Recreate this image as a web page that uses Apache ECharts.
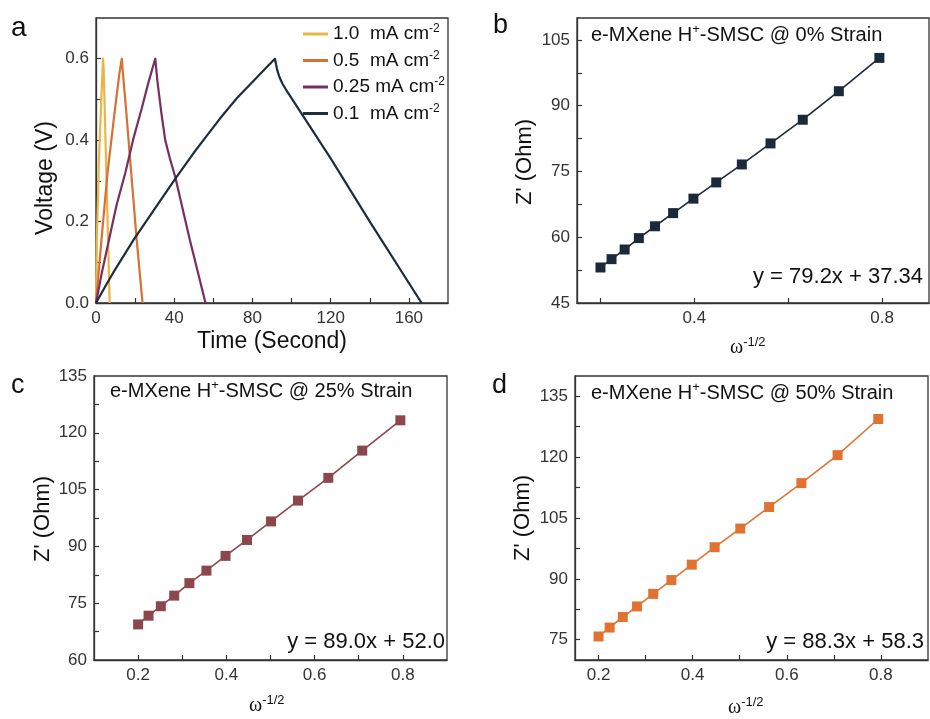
<!DOCTYPE html>
<html><head><meta charset="utf-8">
<script src="https://cdn.jsdelivr.net/npm/echarts@6/dist/echarts.min.js"></script>
<style>html,body{margin:0;padding:0;background:#fff}#c{width:930px;height:719px}</style>
</head><body><div id="c"></div>
<script>
const FONT = 'Arial, "Liberation Sans", sans-serif';
const SERIF = '"Times New Roman", "Liberation Serif", serif';

// ---- Panel a: galvanostatic charge/discharge ----
const gcdNames = ['1.0  mA cm^-2', '0.5  mA cm^-2', '0.25 mA cm^-2', '0.1  mA cm^-2'];
const gcdColors = ['#e8b646', '#d86f33', '#7a2d60', '#1e2d3c'];
const time10 = [0, 0.4, 1.5, 2.7, 3.6, 3.9, 5.4, 7.0];
const volt10 = [0, 0.15, 0.35, 0.5, 0.6, 0.58, 0.3, 0];
const time05 = [0, 2.7, 5.9, 9.8, 12.0, 13.2, 13.6, 14.2, 15.3, 18.0, 20.9, 23.8];
const volt05 = [0, 0.15, 0.32, 0.48, 0.565, 0.6, 0.575, 0.54, 0.48, 0.32, 0.15, 0];
const time025 = [0, 3, 6.4, 10.5, 15.0, 19.2, 23.5, 27.0, 30.3, 30.8, 31.4, 32.3, 33.6, 35.4, 37.8, 40.5, 48.0, 56.0];
const volt025 = [0, 0.075, 0.15, 0.24, 0.32, 0.405, 0.48, 0.545, 0.6, 0.575, 0.545, 0.51, 0.46, 0.4, 0.355, 0.31, 0.155, 0];
const time01 = [0, 5, 10, 19.2, 30, 40.5, 50, 57, 63.4, 72, 80, 86, 91.5, 92.1, 92.8, 93.8, 95.3, 97.4, 120, 140, 166.5];
const volt01 = [0, 0.043, 0.084, 0.155, 0.231, 0.305, 0.369, 0.413, 0.453, 0.503, 0.543, 0.573, 0.6, 0.585, 0.57, 0.555, 0.539, 0.522, 0.355, 0.2, 0];
const gcdTimes = [time10, time05, time025, time01];
const gcdVolts = [volt10, volt05, volt025, volt01];

// ---- Panels b, c, d: Z' vs omega^-1/2 ----
const omegaX = [0.2, 0.2236, 0.2515, 0.2818, 0.3162, 0.3548, 0.3981, 0.4467, 0.5012, 0.5623, 0.631, 0.7079, 0.7943];
const zReB = [53.1, 55.0, 57.2, 59.8, 62.5, 65.5, 68.8, 72.5, 76.6, 81.4, 86.8, 93.3, 100.9];
const zReC = [69.4, 71.7, 74.2, 77.0, 80.3, 83.6, 87.5, 91.7, 96.6, 102.1, 108.1, 115.3, 123.3];
const zReD = [75.8, 78.0, 80.6, 83.2, 86.3, 89.7, 93.5, 97.8, 102.4, 107.7, 113.6, 120.5, 129.4];
const strainTitles = ['0%', '25%', '50%'];
const fitEquations = ['y = 79.2x + 37.34', 'y = 89.0x + 52.0', 'y = 88.3x + 58.3'];
const fitColors = ['#1b2a3a', '#8c474c', '#e07332'];

// tick labels
const aXLabels = [0, 40, 80, 120, 160];
const aXTicks = [20, 40, 60, 80, 100, 120, 140, 160];
const aYLabels = [0, 0.2, 0.4, 0.6];
const aYTicks = [0.1, 0.2, 0.3, 0.4, 0.5, 0.6];
const bXLabels = [0.4, 0.8];
const bXTicks = [0.2, 0.4, 0.6, 0.8];
const bYLabels = [45, 60, 75, 90, 105];
const bYTicks = [52.5, 60, 67.5, 75, 82.5, 90, 97.5, 105];
const cdXLabels = [0.2, 0.4, 0.6, 0.8];
const cdXTicks = [0.2, 0.3, 0.4, 0.5, 0.6, 0.7, 0.8];
const cYLabels = [60, 75, 90, 105, 120, 135];
const cYTicks = [67.5, 75, 82.5, 90, 97.5, 105, 112.5, 120, 127.5];
const dYLabels = [75, 90, 105, 120, 135];
const dYTicks = [75, 82.5, 90, 97.5, 105, 112.5, 120, 127.5, 135];

const AXC = '#333';
function axis(gi, min, max, labels, ticks, fmt) {
  return {
    type: 'value', gridIndex: gi, min: min, max: max,
    axisLine: { show: true, onZero: false, lineStyle: { color: AXC, width: 1.3 } },
    axisTick: { show: true, inside: true, length: 5, customValues: ticks, lineStyle: { color: AXC, width: 1.2 } },
    axisLabel: { customValues: labels, formatter: fmt, fontSize: 17, color: '#333', fontFamily: FONT, margin: 7 },
    splitLine: { show: false }
  };
}
const f1 = v => Number(v).toFixed(1);
const f0 = v => String(v);

const grids = [
  { left: 96, top: 18, width: 352, height: 285 },
  { left: 577, top: 18, width: 352, height: 285 },
  { left: 94, top: 376, width: 353, height: 284 },
  { left: 575, top: 376, width: 353, height: 284 }
].map(g => Object.assign({ show: true, borderColor: AXC, borderWidth: 1.3, containLabel: false }, g));

const xAxes = [
  axis(0, 0, 180, aXLabels, aXTicks, f0),
  axis(1, 0.15, 0.9, bXLabels, bXTicks, f1),
  axis(2, 0.1, 0.9, cdXLabels, cdXTicks, f1),
  axis(3, 0.15, 0.9, cdXLabels, cdXTicks, f1)
];
const yAxes = [
  axis(0, 0, 0.7, aYLabels, aYTicks, f1),
  axis(1, 45, 110, bYLabels, bYTicks, f0),
  axis(2, 60, 135, cYLabels, cYTicks, f0),
  axis(3, 70, 140, dYLabels, dYTicks, f0)
];

const series = [];
gcdNames.forEach((n, i) => {
  series.push({
    name: n, type: 'line', xAxisIndex: 0, yAxisIndex: 0, showSymbol: false, symbol: 'none',
    color: gcdColors[i], lineStyle: { width: 2.2, color: gcdColors[i], join: 'round' },
    data: gcdTimes[i].map((t, k) => [t, gcdVolts[i][k]]), animation: false
  });
});
[zReB, zReC, zReD].forEach((arr, i) => {
  series.push({
    name: 'fit' + i, type: 'line', xAxisIndex: i + 1, yAxisIndex: i + 1,
    symbol: 'rect', symbolSize: 10, color: fitColors[i],
    lineStyle: { width: 1.6, color: fitColors[i] }, itemStyle: { color: fitColors[i] },
    data: omegaX.map((x, k) => [x, arr[k]]), animation: false
  });
});

const supRich = {
  s: { fontSize: 13, lineHeight: 13, verticalAlign: 'top', fontFamily: FONT, fill: '#111', color: '#111' }
};
function txt(x, y, text, opts) {
  return Object.assign({
    type: 'text', x: x, y: y, silent: true,
    style: Object.assign({ text: text, fontFamily: FONT, fontSize: 18, fill: '#111', textAlign: 'left', textVerticalAlign: 'middle' }, opts || {})
  });
}
const graphic = [];
// panel letters
graphic.push(txt(11, 28, 'a', { fontSize: 28 }));
graphic.push(txt(493, 26, 'b', { fontSize: 27 }));
graphic.push(txt(11, 386, 'c', { fontSize: 27 }));
graphic.push(txt(492, 386, 'd', { fontSize: 27 }));
// panel a axis titles
const ra = txt(46, 178, 'Voltage (V)', { fontSize: 23, textAlign: 'center' }); ra.rotation = Math.PI / 2; graphic.push(ra);
graphic.push(txt(272, 342, 'Time (Second)', { fontSize: 23, textAlign: 'center' }));
// b,c,d
const zPos = [[525, 162], [43, 519], [523, 518]];
const wPos = [[730, 348], [249, 706], [728, 708]];
const annPos = [[591, 35], [110, 391], [591, 393]];
const eqPos = [[923, 277], [445, 642], [924, 642]];
for (let i = 0; i < 3; i++) {
  const z = txt(zPos[i][0], zPos[i][1], "Z' (Ohm)", { fontSize: 22, textAlign: 'center' });
  z.rotation = Math.PI / 2; graphic.push(z);
  graphic.push(txt(wPos[i][0], wPos[i][1], '{w|ω}{s|-1/2}', {
    rich: {
      w: { fontFamily: SERIF, fontSize: 20, lineHeight: 24, fill: '#111', color: '#111' },
      s: { fontFamily: FONT, fontSize: 13, lineHeight: 14, verticalAlign: 'top', fill: '#111', color: '#111' }
    }
  }));
  graphic.push(txt(annPos[i][0], annPos[i][1], 'e-MXene H{s|+}-SMSC @ ' + strainTitles[i] + ' Strain', { fontSize: 20, lineHeight: 24, rich: supRich }));
  graphic.push(txt(eqPos[i][0], eqPos[i][1], fitEquations[i], { fontSize: 22, textAlign: 'right' }));
}

const chart = echarts.init(document.getElementById('c'), null, { renderer: 'canvas' });
chart.setOption({
  animation: false,
  backgroundColor: '#fff',
  grid: grids, xAxis: xAxes, yAxis: yAxes, series: series,
  legend: {
    data: gcdNames, orient: 'vertical', left: 303, top: 23, itemGap: 4.5, padding: 0,
    itemWidth: 25, itemHeight: 3, icon: 'rect', selectedMode: false,
    formatter: n => n.replace('^-2', '{s|-2}'),
    textStyle: {
      fontSize: 19, fontFamily: FONT, color: '#111', lineHeight: 22,
      rich: { s: { fontSize: 12, lineHeight: 12, verticalAlign: 'top', fontFamily: FONT, color: '#111' } }
    }
  },
  graphic: graphic
});
</script></body></html>
